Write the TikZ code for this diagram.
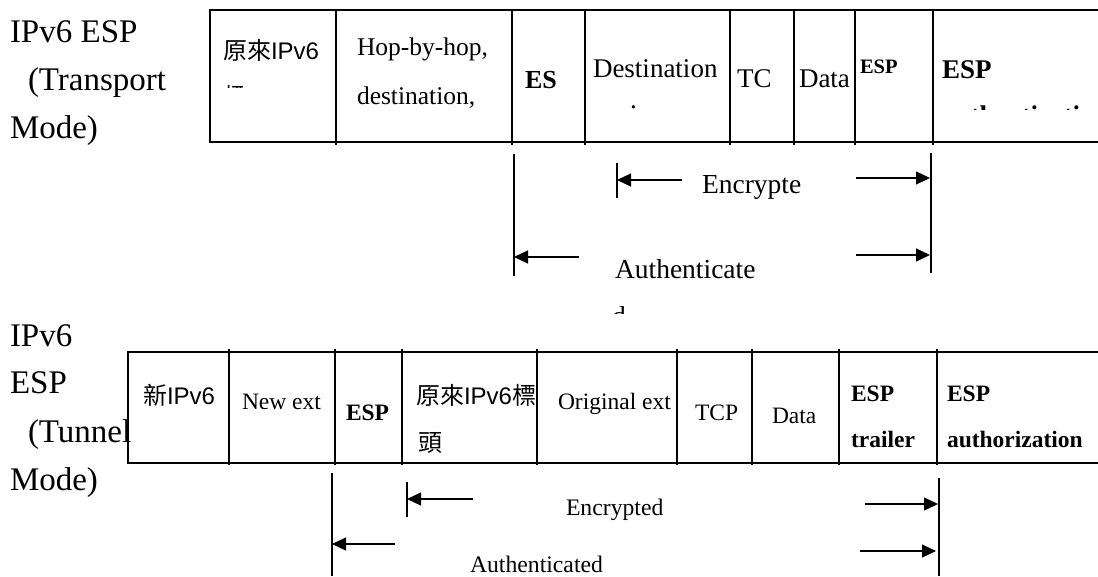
\documentclass[tikz,border=0pt]{standalone}
\usepackage{fontspec}
\setmainfont{Liberation Serif}
\newfontfamily\cjk{Noto Sans CJK TC}
\newfontfamily\arial{Liberation Sans}
\usetikzlibrary{arrows.meta}
\begin{document}
\begin{tikzpicture}[x=1pt,y=-1pt,
  txt/.style={inner sep=0pt, outer sep=0pt, anchor=base west},
  lbl/.style={txt, font=\fontsize{33}{38}\selectfont},
  tcell/.style={txt, font=\fontsize{25.5}{30}\selectfont},
  tcellb/.style={txt, font=\fontsize{27}{32}\selectfont},
  bcell/.style={txt, font=\fontsize{23.5}{28}\selectfont},
  boldcell/.style={txt, font=\fontsize{23.5}{28}\selectfont\bfseries},
  cjkcell/.style={txt, font=\fontsize{24}{28}\selectfont},
  span/.style={txt, font=\fontsize{27.5}{32}\selectfont},
  bspan/.style={txt, font=\fontsize{23.7}{28}\selectfont},
  frame/.style={line width=1.7pt},
  rule/.style={line width=1.5pt},
  bar/.style={line width=1.1pt},
  arr/.style={line width=1.2pt, -{Triangle[length=14pt,width=13pt]}}]
\useasboundingbox (0,0) rectangle (1098,576);

% ---------------- transport mode ----------------
\node[lbl] (tl1) at (10,42) {IPv6 ESP};
\node[lbl] (tl2) at (28,90) {(Transport};
\node[lbl] (tl3) at (10,138) {Mode)};

\draw[frame] (1098,10) -- (210,10) -- (210,142) -- (1098,142);
\foreach \x in {336,512,585,730,794,855,933}
  \draw[rule] (\x,9) -- (\x,145);

\node[cjkcell] (t1) at (223,59) {{\cjk 原來}{\arial IPv6}};
\begin{scope}
  \clip (224,85) rectangle (242,87.5);
  \node[cjkcell] (t1b) at (223,105) {{\cjk 標頭}};
\end{scope}
\node[tcell] (t2a) at (357,55) {Hop-by-hop,};
\node[tcell] (t2b) at (357,104) {destination,};
\node[txt, font=\fontsize{26}{30}\selectfont\bfseries] (t3) at (525,88) {ES};
\node[tcellb] (t4) at (593,77) {Destination};
\node[tcellb] (t4b) at (630,108) {.};
\node[tcellb] (t5) at (737,87) {TC};
\node[tcellb] (t6) at (799,87) {Data};
\node[txt, font=\fontsize{20.5}{24}\selectfont\bfseries] (t7) at (860,73) {ESP};
\node[txt, font=\fontsize{27}{32}\selectfont\bfseries] (t8) at (942,78) {ESP};
\begin{scope}
  \clip (936,104) rectangle (1098,109.5);
  \node[txt, font=\fontsize{27}{32}\selectfont\bfseries] (t8b) at (942,124) {authentication};
\end{scope}

% encrypted span
\coordinate (e1a) at (617,163); \coordinate (e1b) at (617,198);
\coordinate (e1s) at (682,180); \coordinate (e1t) at (617,180);
\coordinate (e2s) at (856,178); \coordinate (e2t) at (930,178);
\draw[bar] (e1a) -- (e1b);
\draw[arr] (e1s) -- (e1t);
\draw[arr] (e2s) -- (e2t);
\node[span] (tenc) at (702,193) {Encrypte};

% authenticated span
\coordinate (a1a) at (514,154); \coordinate (a1b) at (514,276);
\coordinate (a2a) at (931,153); \coordinate (a2b) at (931,273);
\coordinate (a1s) at (579,257); \coordinate (a1t) at (514,257);
\coordinate (a2s) at (856,255); \coordinate (a2t) at (930,255);
\draw[bar] (a1a) -- (a1b);
\draw[bar] (a2a) -- (a2b);
\draw[arr] (a1s) -- (a1t);
\draw[arr] (a2s) -- (a2t);
\node[span] (tauth) at (615,278) {Authenticate};
\begin{scope}
  \clip (600,306) rectangle (640,313);
  \node[span] (tauthb) at (612,325) {d};
\end{scope}

% ---------------- tunnel mode ----------------
\node[lbl] (bl1) at (10,346) {IPv6};
\node[lbl] (bl2) at (10,393) {ESP};
\node[lbl] (bl3) at (28,442) {(Tunnel};
\node[lbl] (bl4) at (10,490) {Mode)};

\draw[frame] (1098,352) -- (128,352) -- (128,463) -- (1098,463);
\foreach \x in {229,335,402,537,677,752,839,937}
  \draw[rule] (\x,349) -- (\x,465);

\node[cjkcell] (b1) at (143,404) {{\cjk 新}{\arial IPv6}};
\node[bcell] (b2) at (242,409) {New ext};
\node[boldcell] (b3) at (346,420) {ESP};
\node[cjkcell] (b4a) at (416,404) {{\cjk 原來}{\arial IPv6}{\cjk 標}};
\node[cjkcell] (b4b) at (418,451) {{\cjk 頭}};
\node[bcell] (b5) at (558,409) {Original ext};
\node[bcell] (b6) at (695,420) {TCP};
\node[bcell] (b7) at (772,423) {Data};
\node[boldcell] (b8a) at (851,401) {ESP};
\node[boldcell] (b8b) at (851,447) {trailer};
\node[boldcell] (b9a) at (947,401) {ESP};
\node[boldcell] (b9b) at (947,447) {authorization};

% encrypted span
\coordinate (f1a) at (407,482); \coordinate (f1b) at (407,517);
\coordinate (f1s) at (473,499); \coordinate (f1t) at (407,499);
\coordinate (f2s) at (865,504); \coordinate (f2t) at (938,504);
\coordinate (f2a) at (939,478); \coordinate (f2b) at (939,576);
\draw[bar] (f1a) -- (f1b);
\draw[bar] (f2a) -- (f2b);
\draw[arr] (f1s) -- (f1t);
\draw[arr] (f2s) -- (f2t);
\node[bspan] (benc) at (566,515) {Encrypted};

% authenticated span
\coordinate (g1a) at (332,473); \coordinate (g1b) at (332,576);
\coordinate (g1s) at (395,544); \coordinate (g1t) at (332,544);
\coordinate (g2s) at (860,551); \coordinate (g2t) at (936,551);
\draw[bar] (g1a) -- (g1b);
\draw[arr] (g1s) -- (g1t);
\draw[arr] (g2s) -- (g2t);
\node[bspan] (bauth) at (470,572) {Authenticated};
\end{tikzpicture}
\end{document}
